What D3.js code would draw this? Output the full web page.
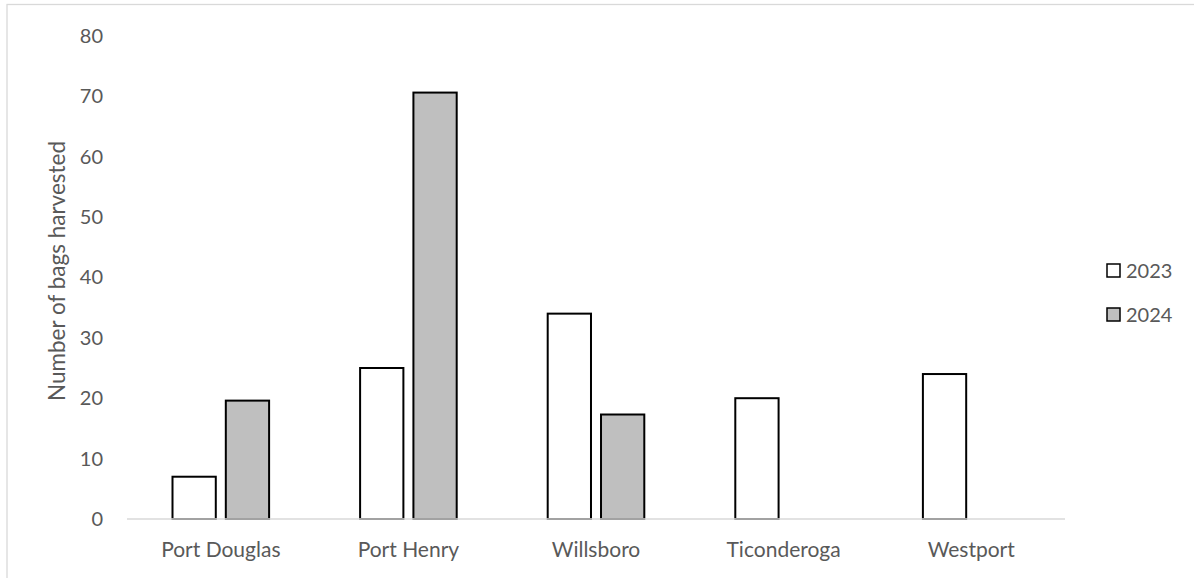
<!DOCTYPE html>
<html>
<head>
<meta charset="utf-8">
<script src="https://cdn.jsdelivr.net/npm/d3@7"></script>
<style>
  html, body { margin: 0; padding: 0; background: #fff; }
  svg { display: block; }
  text { font-family: Lato, "Open Sans", sans-serif; fill: #595959; }
</style>
</head>
<body>
<svg id="chart" width="1194" height="578"></svg>
<script>
const categories = ["Port Douglas", "Port Henry", "Willsboro", "Ticonderoga", "Westport"];
const seriesNames = ["2023", "2024"];
const values2023 = [7, 25, 34, 20, 24];
const values2024 = [19.6, 70.6, 17.3, null, null];
const yTicks = [0, 10, 20, 30, 40, 50, 60, 70, 80];
const yTitle = "Number of bags harvested";
const seriesFills = ["#ffffff", "#bfbfbf"];

const svg = d3.select("#chart");
const W = 1194, H = 578;
const plot = { left: 127, right: 1065, top: 35.8, bottom: 519 };

// outer chart border
svg.append("rect")
  .attr("x", 7).attr("y", 4.5)
  .attr("width", W + 10).attr("height", H + 10)
  .attr("fill", "none").attr("stroke", "#d9d9d9").attr("stroke-width", 1.3);

const x0 = d3.scaleBand().domain(categories).range([plot.left, plot.right]).paddingInner(0).paddingOuter(0);
const groupW = 96.6;
const x1 = d3.scaleBand().domain(seriesNames)
  .range([(x0.bandwidth() - groupW) / 2, (x0.bandwidth() + groupW) / 2])
  .paddingInner(0.188).paddingOuter(0);
const y = d3.scaleLinear().domain([0, 80]).range([plot.bottom, plot.top]);

const rows = categories.map((c, i) => ({ cat: c, vals: [values2023[i], values2024[i]] }));

const g = svg.append("g");
const groups = g.selectAll("g.grp").data(rows).join("g")
  .attr("class", "grp")
  .attr("transform", d => `translate(${x0(d.cat)},0)`);

groups.selectAll("rect")
  .data(d => d.vals.map((v, j) => ({ s: seriesNames[j], v, j })).filter(e => e.v != null))
  .join("rect")
  .attr("x", d => x1(d.s))
  .attr("y", d => y(d.v))
  .attr("width", x1.bandwidth())
  .attr("height", d => y(0) - y(d.v))
  .attr("fill", d => seriesFills[d.j])
  .attr("stroke", "#000")
  .attr("stroke-width", 2);

// y axis
const yAxis = d3.axisLeft(y).tickValues(yTicks).tickSize(0).tickPadding(0);
const yg = svg.append("g").attr("transform", `translate(103,0)`).call(yAxis);
yg.select(".domain").remove();
yg.selectAll("text").attr("font-size", 20).style("font-family", "Lato, sans-serif").attr("fill", "#595959");

// baseline
svg.append("line")
  .attr("x1", plot.left).attr("x2", plot.right)
  .attr("y1", y(0)).attr("y2", y(0))
  .attr("stroke", "#d9d9d9").attr("stroke-width", 1.5);

// x axis labels
const xAxis = d3.axisBottom(x0).tickSize(0).tickPadding(0);
const xg = svg.append("g").attr("transform", `translate(0,542)`).call(xAxis);
xg.select(".domain").remove();
xg.selectAll("text").attr("font-size", 21).style("font-family", "Lato, sans-serif").attr("fill", "#595959").attr("dy", "0.71em");

// y title
svg.append("text")
  .attr("transform", `translate(65,271) rotate(-90)`)
  .attr("text-anchor", "middle")
  .attr("font-size", 22.5)
  .text(yTitle);

// legend
const leg = svg.append("g");
const legY = [271, 315];
seriesNames.forEach((s, i) => {
  leg.append("rect")
    .attr("x", 1107).attr("y", legY[i] - 7)
    .attr("width", 13).attr("height", 13)
    .attr("fill", seriesFills[i]).attr("stroke", "#000").attr("stroke-width", 1.5);
  leg.append("text")
    .attr("x", 1126).attr("y", legY[i])
    .attr("dy", "0.35em")
    .attr("font-size", 20)
    .text(s);
});
</script>
</body>
</html>
